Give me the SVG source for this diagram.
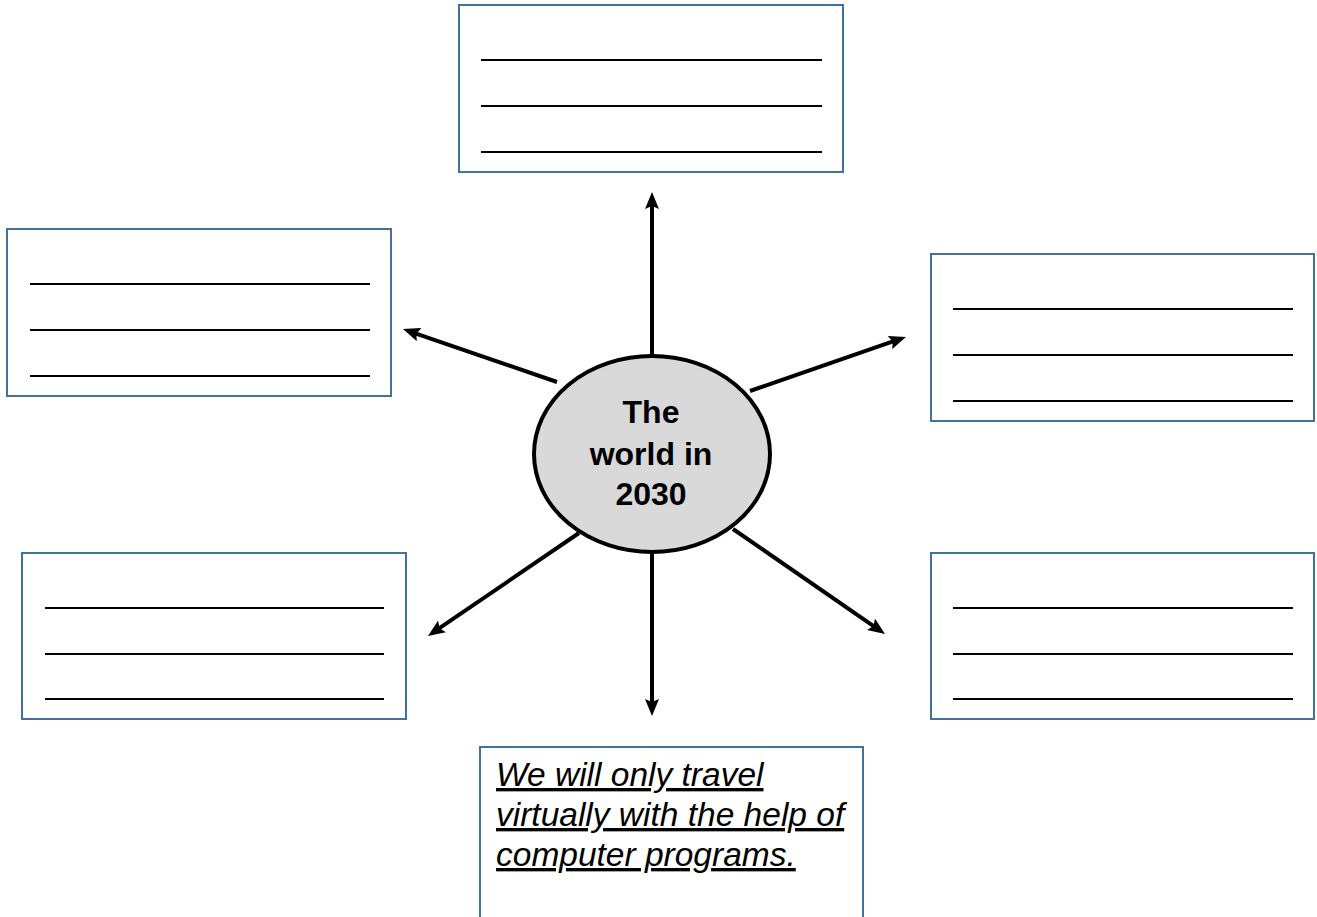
<svg xmlns="http://www.w3.org/2000/svg" width="1317" height="917" viewBox="0 0 1317 917">
<style>
.box{fill:#fff;stroke:#41719C;stroke-width:2}
.rule{stroke:#000;stroke-width:2.2}
.conn{stroke:#000;stroke-width:4;fill:none}
.center{fill:#D9D9D9;stroke:#000;stroke-width:4}
.ctext{font-family:"Liberation Sans",Arial,sans-serif;font-weight:bold;font-size:32px;fill:#000;text-anchor:middle}
.itext{font-family:"Liberation Sans",Arial,sans-serif;font-style:italic;font-size:33.5px;fill:#000;text-decoration:underline}
</style>
<defs>
<marker id="ah" markerUnits="userSpaceOnUse" markerWidth="18" markerHeight="14" refX="4" refY="7" orient="auto">
<path d="M0,0 L17,7 L0,14 L3,7 Z" fill="#000"/>
</marker>
</defs>
<rect width="1317" height="917" fill="#fff"/>
<g id="connectors">
<line class="conn" x1="652" y1="355" x2="652" y2="205" marker-end="url(#ah)"/>
<line class="conn" x1="652" y1="553" x2="652" y2="703" marker-end="url(#ah)"/>
<line class="conn" x1="557" y1="382" x2="415.3" y2="333.3" marker-end="url(#ah)"/>
<line class="conn" x1="750" y1="391" x2="893.7" y2="341.2" marker-end="url(#ah)"/>
<line class="conn" x1="579" y1="533" x2="438.7" y2="628.7" marker-end="url(#ah)"/>
<line class="conn" x1="733" y1="529" x2="874.3" y2="626.6" marker-end="url(#ah)"/>
</g>
<g id="center">
<ellipse class="center" cx="652" cy="454" rx="118" ry="98"/>
<text class="ctext" x="651" y="423">The</text>
<text class="ctext" x="651" y="465">world in</text>
<text class="ctext" x="651" y="505">2030</text>
</g>
<g id="box-top">
<rect class="box" x="459" y="5" width="384" height="167"/>
<line class="rule" x1="481" y1="60" x2="822" y2="60"/>
<line class="rule" x1="481" y1="106" x2="822" y2="106"/>
<line class="rule" x1="481" y1="152" x2="822" y2="152"/>
</g>
<g id="box-left-top">
<rect class="box" x="7" y="229" width="384" height="167"/>
<line class="rule" x1="30" y1="284" x2="370" y2="284"/>
<line class="rule" x1="30" y1="330" x2="370" y2="330"/>
<line class="rule" x1="30" y1="376" x2="370" y2="376"/>
</g>
<g id="box-right-top">
<rect class="box" x="931" y="254" width="383" height="167"/>
<line class="rule" x1="953" y1="309" x2="1293" y2="309"/>
<line class="rule" x1="953" y1="355" x2="1293" y2="355"/>
<line class="rule" x1="953" y1="401" x2="1293" y2="401"/>
</g>
<g id="box-left-bottom">
<rect class="box" x="22" y="553" width="384" height="166"/>
<line class="rule" x1="45" y1="608" x2="384" y2="608"/>
<line class="rule" x1="45" y1="654" x2="384" y2="654"/>
<line class="rule" x1="45" y1="699" x2="384" y2="699"/>
</g>
<g id="box-right-bottom">
<rect class="box" x="931" y="553" width="383" height="166"/>
<line class="rule" x1="953" y1="608" x2="1293" y2="608"/>
<line class="rule" x1="953" y1="654" x2="1293" y2="654"/>
<line class="rule" x1="953" y1="699" x2="1293" y2="699"/>
</g>
<g id="box-bottom">
<rect class="box" x="480" y="747" width="383" height="200"/>
<text class="itext" x="496" y="786">We will only travel</text>
<text class="itext" x="496" y="826">virtually with the help of</text>
<text class="itext" x="496" y="866">computer programs.</text>
</g>
</svg>
